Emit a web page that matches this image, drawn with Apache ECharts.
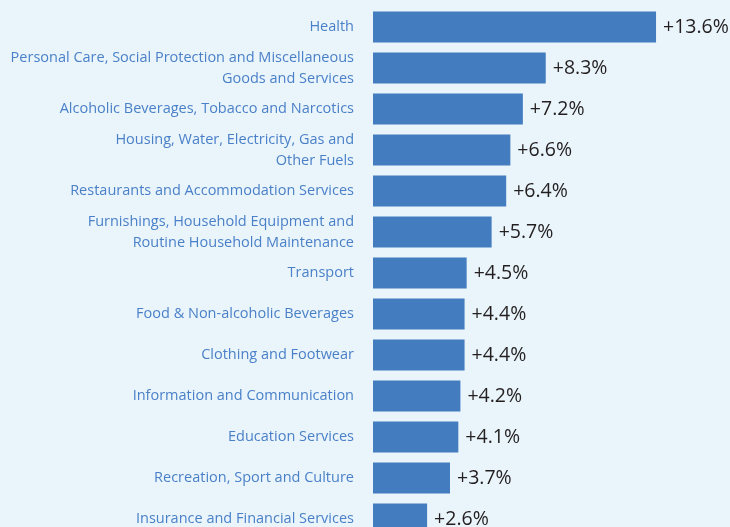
<!DOCTYPE html>
<html>
<head>
<meta charset="utf-8">
<script src="https://cdn.jsdelivr.net/npm/echarts@6/dist/echarts.min.js"></script>
<style>
html,body{margin:0;padding:0;background:#eaf5fb;overflow:hidden;}
#chart{width:730px;height:540px;}
</style>
</head>
<body>
<div id="chart"></div>
<script>
var categories = [
  "Health",
  "Personal Care, Social Protection and Miscellaneous\nGoods and Services",
  "Alcoholic Beverages, Tobacco and Narcotics",
  "Housing, Water, Electricity, Gas and\nOther Fuels",
  "Restaurants and Accommodation Services",
  "Furnishings, Household Equipment and\nRoutine Household Maintenance",
  "Transport",
  "Food & Non-alcoholic Beverages",
  "Clothing and Footwear",
  "Information and Communication",
  "Education Services",
  "Recreation, Sport and Culture",
  "Insurance and Financial Services"
];
var values = [13.6, 8.3, 7.2, 6.6, 6.4, 5.7, 4.5, 4.4, 4.4, 4.2, 4.1, 3.7, 2.6];

var chart = echarts.init(document.getElementById('chart'));
chart.setOption({
  backgroundColor: '#eaf5fb',
  animation: false,
  grid: { left: 373, top: 6.5, right: 24, bottom: 0.5, containLabel: false },
  xAxis: { type: 'value', min: 0, max: 16, show: false },
  yAxis: {
    type: 'category',
    data: categories,
    inverse: true,
    axisLine: { show: false },
    axisTick: { show: false },
    splitLine: { show: false },
    axisLabel: {
      margin: 19,
      align: 'right',
      color: '#4a80c8',
      fontFamily: 'Open Sans',
      fontSize: 14.5,
      lineHeight: 21
    }
  },
  series: [{
    type: 'bar',
    data: values,
    barWidth: 31,
    itemStyle: { color: '#437dc0' },
    label: {
      show: true,
      position: 'right',
      distance: 7,
      color: '#231f20',
      fontFamily: 'Open Sans',
      fontSize: 19.5,
      formatter: function (p) { return '+' + p.value.toFixed(1) + '%'; }
    }
  }]
});
</script>
</body>
</html>
